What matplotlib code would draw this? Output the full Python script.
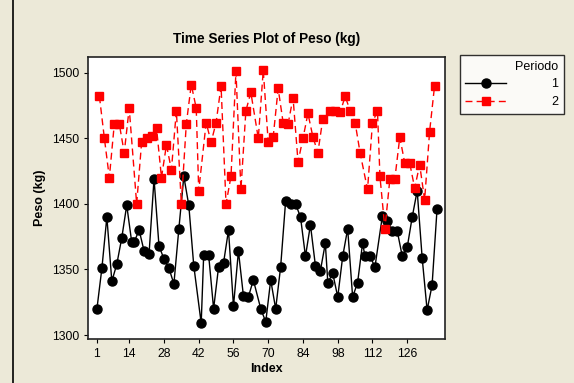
import matplotlib.pyplot as plt
from matplotlib.lines import Line2D

# Periodo 1 (black circles) - index and peso (kg)
black_idx = [1, 3, 5, 7, 9, 11, 13, 15, 16, 18,
             20, 22, 24, 26, 28, 30, 32, 34, 36, 38,
             40, 43, 44, 46, 48, 50, 52, 54, 56, 58,
             60, 62, 64, 67, 69, 71, 73, 75, 77, 79,
             81, 83, 85, 87, 89, 91, 93, 94, 96, 98,
             100, 102, 104, 106, 108, 109, 111, 113, 116, 118,
             120, 122, 124, 126, 128, 130, 132, 134, 136, 138]
black_peso = [1320, 1351, 1390, 1341, 1354, 1374, 1399, 1371, 1371, 1380,
              1364, 1362, 1419, 1368, 1358, 1351, 1339, 1381, 1421, 1399,
              1353, 1309, 1361, 1361, 1320, 1352, 1355, 1380, 1322, 1364,
              1330, 1329, 1342, 1320, 1310, 1342, 1320, 1352, 1402, 1400,
              1400, 1390, 1360, 1384, 1353, 1349, 1370, 1340, 1347, 1329,
              1360, 1381, 1329, 1340, 1370, 1360, 1360, 1352, 1391, 1387,
              1379, 1379, 1360, 1367, 1390, 1410, 1359, 1319, 1338, 1396]

# Periodo 2 (red squares)
red_idx = [2, 4, 6, 8, 10, 12, 14, 17, 19, 21,
           23, 25, 27, 29, 31, 33, 35, 37, 39, 41,
           42, 45, 47, 49, 51, 53, 55, 57, 59, 61,
           63, 66, 68, 70, 72, 74, 76, 78, 80, 82,
           84, 86, 88, 90, 92, 95, 97, 99, 101, 103,
           105, 107, 110, 112, 114, 115, 117, 119, 121, 123,
           125, 127, 129, 131, 133, 135, 137]
red_peso = [1482, 1450, 1420, 1461, 1461, 1439, 1473, 1400, 1447, 1450,
            1452, 1458, 1420, 1445, 1426, 1471, 1400, 1461, 1491, 1473,
            1410, 1462, 1447, 1462, 1490, 1400, 1421, 1501, 1411, 1471,
            1485, 1450, 1502, 1447, 1451, 1488, 1462, 1461, 1481, 1432,
            1450, 1469, 1451, 1439, 1465, 1471, 1471, 1470, 1482, 1471,
            1462, 1439, 1411, 1462, 1471, 1421, 1381, 1419, 1419, 1451,
            1431, 1431, 1412, 1430, 1403, 1455, 1490]

x_ticks = [1, 14, 28, 42, 56, 70, 84, 98, 112, 126]
y_ticks = [1300, 1350, 1400, 1450, 1500]

plt.rcParams['font.family'] = ['Liberation Sans', 'DejaVu Sans']

fig = plt.figure(figsize=(5.74, 3.83), dpi=100)
fig.patch.set_facecolor('#ECE9D8')
# left border of the graph window
fig.add_artist(Line2D([12.5 / 574, 12.5 / 574], [0, 1], color='black', lw=1.2))

ax = fig.add_axes([0.1533, 0.1149, 0.6228, 0.7363])
ax.set_facecolor('white')

ax.plot(black_idx, black_peso, color='black', lw=1, marker='o', ms=6.5, label='1')
ax.plot(red_idx, red_peso, color='red', lw=1, marker='s', ms=5.2,
        dashes=(5, 3), label='2')

ax.set_xlim(-2.6, 141.4)
ax.set_ylim(1297, 1512)
ax.set_xticks(x_ticks)
ax.set_yticks(y_ticks)
ax.tick_params(direction='out', length=3, width=0.8, labelsize=8.7, color='black')
for s in ax.spines.values():
    s.set_linewidth(1.2)
    s.set_color('#222222')

ax.set_title('Time Series Plot of Peso (kg)', fontsize=9.8, fontweight='bold', pad=10)
ax.set_xlabel('Index', fontsize=9, fontweight='bold', labelpad=2)
ax.set_ylabel('Peso (kg)', fontsize=9, fontweight='bold', labelpad=4)

leg = ax.legend(title='Periodo', loc='upper left', bbox_to_anchor=(459.5 / 574, 1 - 55 / 383),
                bbox_transform=fig.transFigure, fontsize=9, title_fontsize=9,
                alignment='right', frameon=True, fancybox=False, edgecolor='black',
                handlelength=3.3, handletextpad=3.6, borderpad=0.45, labelspacing=0.45,
                borderaxespad=0)
leg.get_frame().set_linewidth(1)
leg.get_frame().set_facecolor('white')

fig.savefig('out.png', dpi=100, facecolor=fig.get_facecolor())
